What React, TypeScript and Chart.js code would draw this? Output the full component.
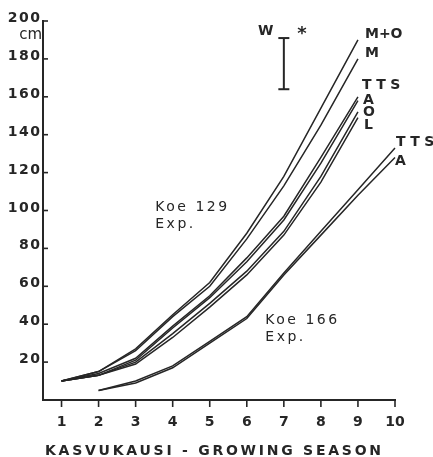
import { useEffect, useRef } from 'react';
import { Chart, registerables } from 'chart.js';

Chart.register(...registerables);

// ---- data ----
const seasons129 = [1, 2, 3, 4, 5, 6, 7, 8, 9];
const seasons166 = [2, 3, 4, 5, 6, 7, 8, 9, 10];
const koe129MO = [10, 15, 27, 45, 62, 88, 118, 154, 190];
const koe129M = [10, 15, 26, 44, 60, 85, 113, 145, 180];
const koe129TTS = [10, 14, 22, 39, 55, 75, 97, 128, 160];
const koe129A = [10, 13, 21, 38, 54, 73, 95, 125, 158];
const koe129O = [10, 13, 20, 35, 51, 68, 89, 118, 152];
const koe129L = [10, 13, 19, 33, 49, 66, 87, 115, 149];
const koe166TTS = [5, 10, 18, 31, 44, 67, 89, 111, 133];
const koe166A = [5, 9, 17, 30, 43, 66, 87, 108, 128];
const xTicks = [1, 2, 3, 4, 5, 6, 7, 8, 9, 10];
const yTicks = [20, 40, 60, 80, 100, 120, 140, 160, 180, 200];
const errorBarSeason = 7;
const errorBarRange = [164, 191];

const INK = '#262626';

type Series = { label: string; xs: number[]; ys: number[]; dx: number; dy: number; spacing: number };
const series: Series[] = [
  { label: 'M+O', xs: seasons129, ys: koe129MO, dx: 7, dy: -6, spacing: 0 },
  { label: 'M', xs: seasons129, ys: koe129M, dx: 7, dy: -6, spacing: 0 },
  { label: 'TTS', xs: seasons129, ys: koe129TTS, dx: 4, dy: -11, spacing: 4.4 },
  { label: 'A', xs: seasons129, ys: koe129A, dx: 5, dy: 0, spacing: 0 },
  { label: 'O', xs: seasons129, ys: koe129O, dx: 5, dy: 0, spacing: 0 },
  { label: 'L', xs: seasons129, ys: koe129L, dx: 6, dy: 8, spacing: 0 },
  { label: 'TTS', xs: seasons166, ys: koe166TTS, dx: 1, dy: -6, spacing: 4.4 },
  { label: 'A', xs: seasons166, ys: koe166A, dx: 0, dy: 4, spacing: 0 },
];

const notes = [
  { text: 'Koe 129', x: 3.53, y: 101.8 },
  { text: 'Exp.', x: 3.53, y: 92.9 },
  { text: 'Koe 166', x: 6.5, y: 42 },
  { text: 'Exp.', x: 6.5, y: 33.2 },
];

const overlay = {
  id: 'overlay',
  afterDraw(chart: any) {
    const { ctx } = chart;
    const x = chart.scales.x;
    const y = chart.scales.y;
    ctx.save();
    ctx.fillStyle = INK;
    ctx.strokeStyle = INK;
    ctx.lineWidth = 1.6;
    // y ticks inside
    yTicks.forEach((v) => {
      const py = y.getPixelForValue(v);
      ctx.beginPath();
      ctx.moveTo(x.left, py);
      ctx.lineTo(x.left + 5, py);
      ctx.stroke();
    });
    // x ticks outside
    xTicks.forEach((v) => {
      const px = x.getPixelForValue(v);
      ctx.beginPath();
      ctx.moveTo(px, y.bottom);
      ctx.lineTo(px, y.bottom + 7);
      ctx.stroke();
    });
    // y tick labels
    ctx.font = 'bold 14px "DejaVu Sans"';
    ctx.letterSpacing = '1.5px';
    ctx.textAlign = 'right';
    ctx.textBaseline = 'alphabetic';
    yTicks.forEach((v) => {
      const py = y.getPixelForValue(v);
      ctx.fillText(String(v), x.left - 3 + 1.5, py + 1);
    });
    // x tick labels
    ctx.textAlign = 'center';
    ctx.letterSpacing = '0px';
    xTicks.forEach((v) => {
      const px = x.getPixelForValue(v);
      ctx.fillText(String(v), px, 425.5);
    });
    // unit
    ctx.font = '15px "DejaVu Sans"';
    ctx.textAlign = 'right';
    ctx.fillText('cm', x.left - 1, y.getPixelForValue(190) - 0.5);
    // axis title
    ctx.font = 'bold 14px "DejaVu Sans"';
    ctx.letterSpacing = '2.75px';
    ctx.textAlign = 'left';
    ctx.fillText('KASVUKAUSI - GROWING SEASON', 45, 455);
    // notes
    ctx.font = '14px "DejaVu Sans"';
    ctx.letterSpacing = '2.5px';
    ctx.textBaseline = 'middle';
    notes.forEach((n) => {
      ctx.fillText(n.text, x.getPixelForValue(n.x), y.getPixelForValue(n.y));
    });
    // series end labels
    ctx.font = 'bold 14px "DejaVu Sans"';
    series.forEach((s) => {
      const last = s.xs.length - 1;
      const px = x.getPixelForValue(s.xs[last]);
      const py = y.getPixelForValue(s.ys[last]);
      ctx.letterSpacing = s.spacing + 'px';
      ctx.fillText(s.label, px + s.dx, py + s.dy);
    });
    // error bar annotations
    ctx.letterSpacing = '0px';
    const ex = x.getPixelForValue(errorBarSeason);
    const ey = y.getPixelForValue(errorBarRange[1]);
    ctx.textAlign = 'center';
    ctx.fillText('W', ex - 18, ey - 7);
    ctx.font = 'bold 18px "DejaVu Sans"';
    ctx.textBaseline = 'alphabetic';
    ctx.fillText('*', ex + 18, ey + 0.5);
    ctx.restore();
  },
};

export default function App() {
  const ref = useRef<HTMLCanvasElement | null>(null);
  useEffect(() => {
    if (!ref.current) return;
    const lineDs = series.map((s) => ({
      label: s.label,
      data: s.xs.map((xv, i) => ({ x: xv, y: s.ys[i] })),
      borderColor: INK,
      borderWidth: 1.5,
      pointRadius: 0,
      tension: 0,
      fill: false,
      clip: false as any,
    }));
    const errDs = {
      label: 'W',
      data: [
        { x: errorBarSeason, y: errorBarRange[0] },
        { x: errorBarSeason, y: errorBarRange[1] },
      ],
      borderColor: INK,
      borderWidth: 2,
      pointStyle: 'line' as const,
      pointRadius: 5.5,
      pointBorderWidth: 2,
      pointBorderColor: INK,
      tension: 0,
      fill: false,
      clip: false as any,
    };
    const chart = new Chart(ref.current, {
      type: 'line',
      data: { datasets: [...lineDs, errDs] as any },
      options: {
        animation: false,
        responsive: false,
        layout: { padding: { top: 21, right: 38, left: 0, bottom: 0 } },
        plugins: { legend: { display: false }, tooltip: { enabled: false } },
        scales: {
          x: {
            type: 'linear',
            min: 0.5,
            max: 10,
            ticks: { display: false },
            grid: { display: false },
            border: { display: true, color: INK, width: 2 },
            afterFit: (s: any) => {
              s.height = 57;
            },
          },
          y: {
            min: 0,
            max: 200,
            ticks: { display: false },
            grid: { display: false },
            border: { display: true, color: INK, width: 2 },
            afterFit: (s: any) => {
              s.width = 43;
            },
          },
        },
      },
      plugins: [overlay],
    });
    return () => chart.destroy();
  }, []);
  return (
    <div style={{ position: 'fixed', left: 0, top: 0, width: 433, height: 457, background: '#fff' }}>
      <canvas ref={ref} width={433} height={457} style={{ display: 'block' }} />
    </div>
  );
}
